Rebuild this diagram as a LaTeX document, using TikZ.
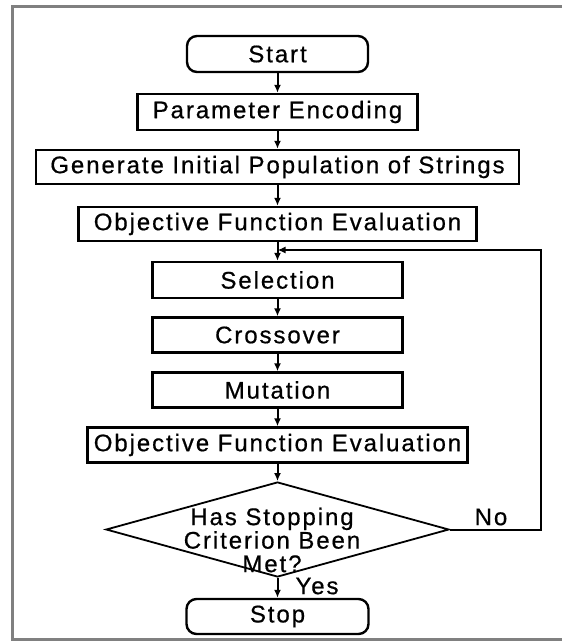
\documentclass[tikz,border=0pt]{standalone}
\usepackage{fontspec}
\setmainfont{Liberation Sans}[LetterSpace=8,FakeBold=0.6]
\usetikzlibrary{shapes.geometric,arrows.meta}
\tikzset{
  box/.style={draw=black, line width=2.4pt, minimum height=35pt, inner sep=0pt, font=\fontsize{24}{23.5}\selectfont},
  term/.style={box, rounded corners=10pt},
  dec/.style={draw=black, line width=1.8pt, diamond, inner sep=0pt},
  lbl/.style={inner sep=0pt, font=\fontsize{24}{23.5}\selectfont, align=center},
  conn/.style={line width=2pt, -{Latex[length=8pt,width=7pt]}},
  frame/.style={draw=black!50, line width=3pt}
}
\begin{document}
\begin{tikzpicture}[x=1pt,y=-1pt]
\useasboundingbox (0,0) rectangle (562,641);
\draw[frame] (566,6) -- (12,6) -- (12,639) -- (566,639);
\node[term, minimum width=181pt, minimum height=36pt] (start) at (277.5,54) {Start};
\node[box, minimum width=280pt, minimum height=36pt] (param) at (277.5,112) {Parameter Encoding};
\node[box, minimum width=483pt, minimum height=34pt] (gen) at (277.5,167) {Generate Initial Population of Strings};
\node[box, minimum width=398pt, minimum height=34pt] (obj1) at (277.5,224) {Objective Function Evaluation};
\node[box, minimum width=250pt, minimum height=36pt] (sel) at (277.5,280) {Selection};
\node[box, minimum width=250pt] (cross) at (277.5,335) {Crossover};
\node[box, minimum width=250pt] (mut) at (277.5,390) {Mutation};
\node[box, minimum width=380pt] (obj2) at (277.5,445) {Objective Function Evaluation};
\node[dec, minimum width=343pt, minimum height=95pt] (dec) at (277.5,529.5) {};
\node[lbl] (dectext) at (272,540) {Has Stopping\\Criterion Been\\Met?};
\node[term, minimum width=182pt] (stop) at (277.5,616.5) {Stop};
\node[lbl] (no) at (491,517) {No};
\node[lbl] (yes) at (317,586) {Yes};
\coordinate (c1) at (541,529.5);
\coordinate (c2) at (541,250);
\coordinate (j) at (277.5,250);
\draw[conn] (start) -- (param);
\draw[conn] (param) -- (gen);
\draw[conn] (gen) -- (obj1);
\draw[conn] (obj1) -- (sel);
\draw[conn] (sel) -- (cross);
\draw[conn] (cross) -- (mut);
\draw[conn] (mut) -- (obj2);
\draw[conn] (obj2) -- (dec);
\draw[conn] (dec) -- (stop);
\draw[conn] (dec.east) -- (c1) -- (c2) -- (j);
\end{tikzpicture}
\end{document}
